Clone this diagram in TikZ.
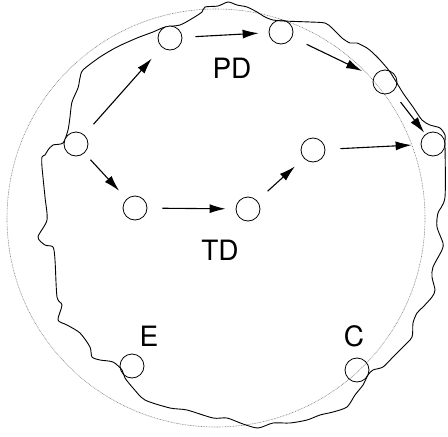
\documentclass[tikz,border=0pt]{standalone}
\usepackage{fontspec}
\setmainfont{TeX Gyre Heros}
\usetikzlibrary{arrows.meta}
\begin{document}
\begin{tikzpicture}[x=1pt,y=-1pt,
  pt/.style={circle,draw,line width=0.8pt,minimum size=24pt,inner sep=0pt},
  arr/.style={-{Latex[length=16pt,width=9pt]},line width=1.1pt},
  lab/.style={font=\fontsize{28}{30}\selectfont,inner sep=0pt}]
\useasboundingbox (0,0) rectangle (448,437);
% reference circle
\draw[gray,line width=0.6pt,dash pattern=on 0.8pt off 0.8pt] (216,218) circle[radius=209];
% irregular outline
\draw[line width=0.9pt] plot[smooth cycle,tension=0.45] coordinates {
(63,143) (68,130) (70,117) (72,102) (78,88) (80,78) (83,70) (100,57) (117,47) (137,38) (153,32) (165,27) (180,25) (193,18) (202,12) (205,7) (218,6) (228,2) (237,5) (247,7) (257,12) (265,17) (273,20) (283,21) (310,22) (325,23) (332,28) (342,38) (350,43) (357,43) (367,48) (373,53) (380,60) (390,72) (403,93) (413,107) (422,120) (430,125) (440,128) (445,135) (445,143) (445,197) (438,213) (437,227) (443,243) (442,250) (433,267) (432,277) (435,290) (432,297) (423,307) (417,313) (413,323) (412,337) (403,347) (393,357) (383,367) (373,370) (368,375) (363,385) (355,395) (347,407) (333,412) (320,415) (307,420) (290,423) (273,423) (258,428) (243,424) (227,418) (213,418) (187,410) (170,408) (145,400) (133,388) (125,378) (122,370) (113,362) (100,360) (92,357) (90,347) (80,333) (67,325) (58,320) (62,305) (57,297) (55,260) (53,247) (45,245) (38,237) (47,220) (45,197) (42,167) (42,157) (45,155) (48,150) (53,145)};
% nodes
\node[pt,fill=white] (L) at (76,144) {};
\node[pt,fill=white] (P1) at (170,38) {};
\node[pt] (P2) at (281,32) {};
\node[pt] (P3) at (385,82) {};
\node[pt] (P4) at (433,144) {};
\node[pt] (T1) at (135,208) {};
\node[pt] (T2) at (248,209) {};
\node[pt] (T3) at (313,150) {};
\node[pt] (E) at (132,366) {};
\node[pt] (C) at (357,370) {};
% labels
\node[lab] (pd) at (232,68) {PD};
\node[lab] (td) at (220,250) {TD};
\node[lab] (el) at (149,336) {E};
\node[lab] (cl) at (354,336) {C};
% arrows
\draw[arr,shorten <=14pt,shorten >=15pt] (L) -- (P1);
\draw[arr,shorten <=9pt,shorten >=11pt] (L) -- (T1);
\draw[arr,shorten <=15pt,shorten >=10pt] (T1) -- (T2);
\draw[arr,shorten <=14pt,shorten >=12pt] (T2) -- (T3);
\draw[arr,shorten <=15pt,shorten >=9pt] (T3) -- (P4);
\draw[arr,shorten <=13pt,shorten >=10pt] (P1) -- (P2);
\draw[arr,shorten <=16pt,shorten >=13pt] (P2) -- (P3);
\draw[arr,shorten <=13pt,shorten >=2pt] (P3) -- (P4);
\end{tikzpicture}
\end{document}
